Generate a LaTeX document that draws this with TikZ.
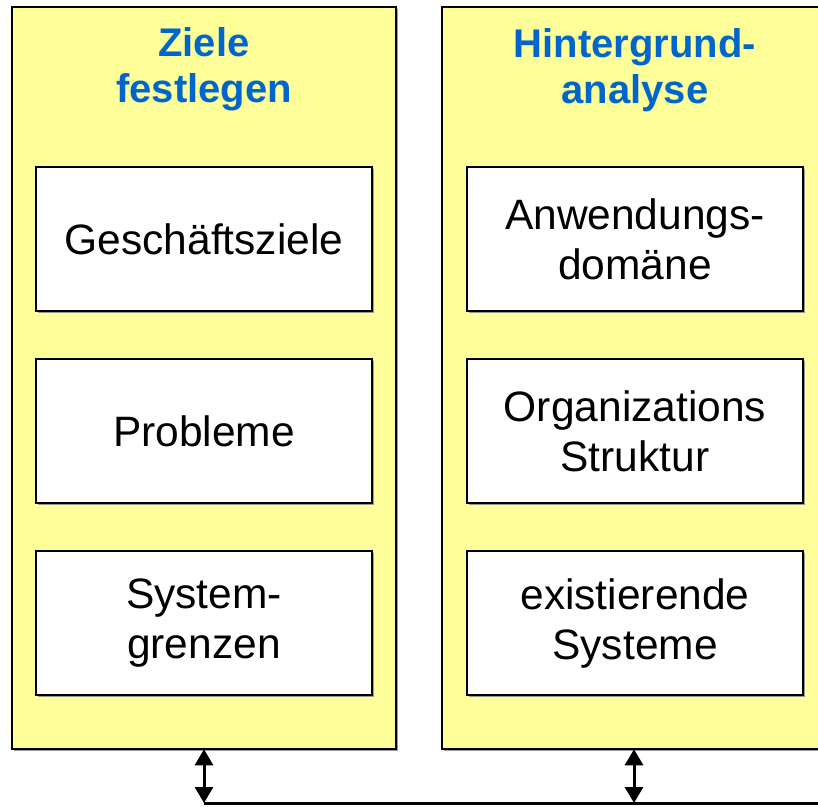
\documentclass[tikz,border=0pt]{standalone}
\usepackage{fontspec}
\setmainfont{Liberation Sans}
\usetikzlibrary{arrows.meta,shadows}

\definecolor{panelyellow}{HTML}{FFFF99}
\definecolor{titleblue}{HTML}{0066CC}

\tikzset{
  panel/.style={draw=black, line width=2.5pt, fill=panelyellow,
    minimum width=384pt, minimum height=742pt, inner sep=0pt,
    drop shadow={shadow xshift=1.5pt, shadow yshift=-1.5pt, fill=gray!80, opacity=1}},
  titletext/.style={font=\bfseries\fontsize{40}{46}\selectfont, text=titleblue,
    align=center, inner sep=0pt, anchor=base},
  itembox/.style={draw=black, line width=2.5pt, fill=white,
    minimum width=336pt, minimum height=144pt, inner sep=0pt,
    align=center, font=\fontsize{42.5}{50}\selectfont,
    drop shadow={shadow xshift=1.5pt, shadow yshift=-1.5pt, fill=gray!80, opacity=1}},
  link/.style={line width=3pt, draw=black},
  biarrow/.style={link, {Triangle[width=18pt,length=16pt]}-{Triangle[width=18pt,length=16pt]}, shorten <=-1pt}
}

\begin{document}
\begin{tikzpicture}[x=1pt, y=-1pt]
  \useasboundingbox (0,0) rectangle (818,806);
  \clip (0,0) rectangle (818,806);

  % two columns
  \node[panel] (panelL) at (204,378) {};
  \node[panel] (panelR) at (634,378) {};

  % column headings (anchored at the baseline of the last line)
  \node[titletext] (titleL) at (204,102) {Ziele\\festlegen};
  \node[titletext] (titleR) at (635,103) {Hintergrund-\\analyse};

  % left column items
  \node[itembox] (goals)    at (204,239) {Geschäftsziele};
  \node[itembox] (problems) at (204,431) {Probleme};
  \node[itembox] (bounds)   at (204,623) {System-\\grenzen};

  % right column items
  \node[itembox] (domain)   at (635,239) {Anwendungs-\\domäne};
  \node[itembox] (orga)     at (635,431) {Organizations\\Struktur};
  \node[itembox] (existing) at (635,623) {existierende\\Systeme};

  % connection between both columns
  \coordinate (joinL) at (204,803);
  \coordinate (joinR) at (634,803);
  \coordinate (joinEnd) at (830,803);
  \draw[biarrow] (panelL.south) -- (joinL);
  \draw[biarrow] (panelR.south) -- (joinR);
  \draw[link] (joinL) -- (joinR) -- (joinEnd);
\end{tikzpicture}
\end{document}
